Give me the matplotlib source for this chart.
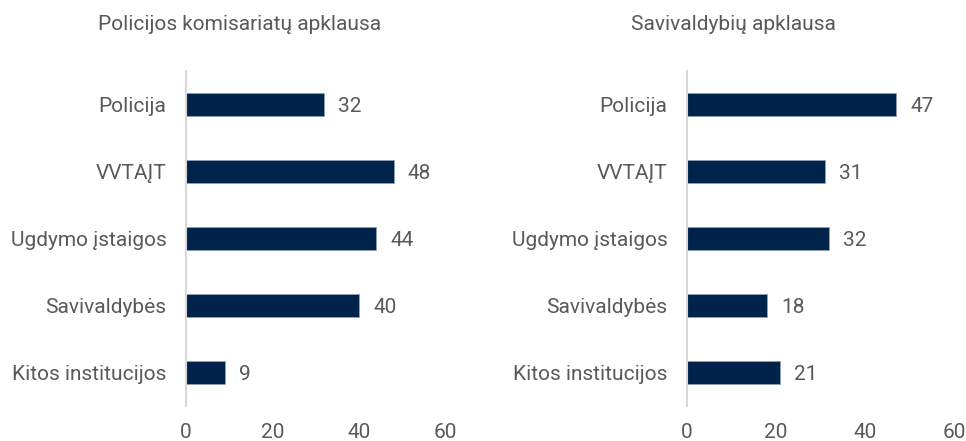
import matplotlib
matplotlib.use("Agg")
import matplotlib.pyplot as plt

categories = ["Policija", "VVTAĮT", "Ugdymo įstaigos", "Savivaldybės", "Kitos institucijos"]
police_values = [32, 48, 44, 40, 9]
municip_values = [47, 31, 32, 18, 21]
titles = ["Policijos komisariatų apklausa", "Savivaldybių apklausa"]
xticks = [0, 20, 40, 60]

plt.rcParams['font.family'] = ["Roboto", "DejaVu Sans"]
W, H = 966, 441
fig = plt.figure(figsize=(W/100, H/100), dpi=100)
grey = "#595959"
navy = "#00234B"
fs = 15

def axes_px(x0, x1, y0, y1):
    return fig.add_axes([x0/W, 1 - y1/H, (x1-x0)/W, (y1-y0)/H])

specs = [(186, 445.5, police_values, 240), (687, 954, municip_values, 733)]
for (x0, x1, vals, tx), title in zip(specs, titles):
    ax = axes_px(x0, x1, 71, 406)
    y = list(range(len(categories)))
    ax.barh(y, vals, height=0.35, color=navy, edgecolor="#8fa0b8", linewidth=0.6)
    ax.set_ylim(4.5, -0.5)
    ax.set_xlim(0, 60)
    ax.set_yticks(y)
    ax.set_yticklabels(categories, fontsize=fs, color=grey)
    ax.set_xticks(xticks)
    ax.set_xticklabels([str(t) for t in xticks], fontsize=fs, color=grey)
    ax.tick_params(length=0)
    ax.tick_params(axis="y", pad=14)
    ax.tick_params(axis="x", pad=12)
    for s in ["top", "right", "bottom"]:
        ax.spines[s].set_visible(False)
    ax.spines["left"].set_color("#d9d9d9")
    ax.spines["left"].set_linewidth(1.5)
    ax.patch.set_alpha(0)
    for yi, v in zip(y, vals):
        ax.annotate(str(v), (v, yi), xytext=(14, -2), textcoords="offset pixels",
                    va="center", ha="left", fontsize=fs, color=grey)
    fig.text(tx/W, 1 - 25/H, title, ha="center", va="center", fontsize=fs, color=grey)

fig.savefig("out.png", dpi=100)
